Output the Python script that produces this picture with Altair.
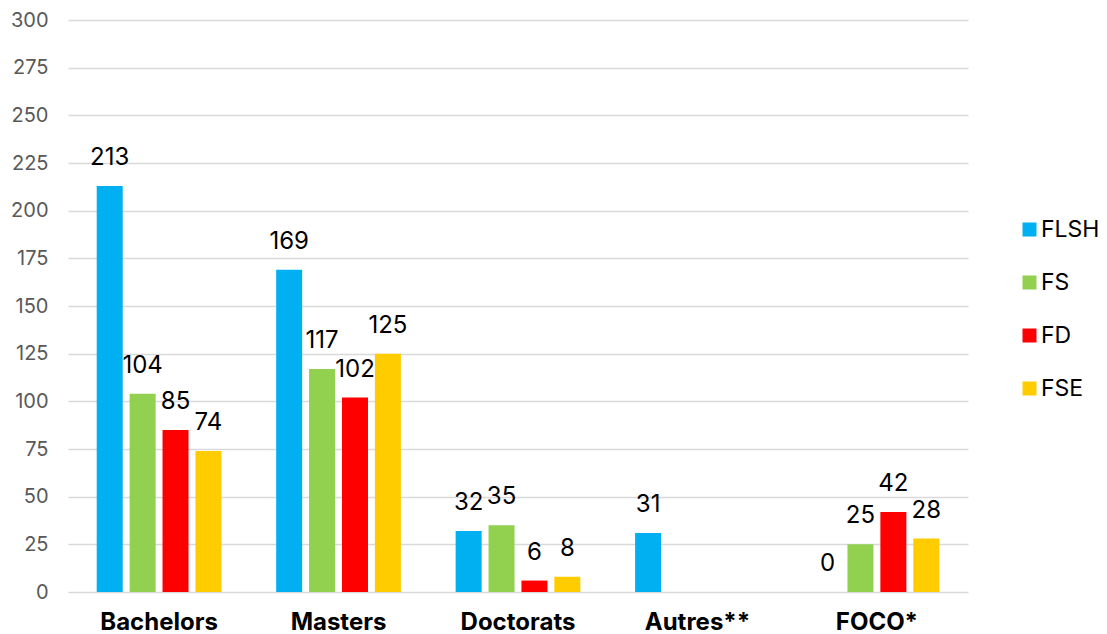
import altair as alt
import pandas as pd

categories = ["Bachelors", "Masters", "Doctorats", "Autres**", "FOCO*"]
series = ["FLSH", "FS", "FD", "FSE"]
colors = ["#00B0F0", "#92D050", "#FF0000", "#FFCC00"]
values = {
    "FLSH": [213, 169, 32, 31, 0],
    "FS": [104, 117, 35, None, 25],
    "FD": [85, 102, 6, None, 42],
    "FSE": [74, 125, 8, None, 28],
}

rows = []
for s in series:
    for c, v in zip(categories, values[s]):
        if v is not None:
            rows.append({"cat": c, "fac": s, "val": v})
df = pd.DataFrame(rows)

FONT = "Inter"

x = alt.X("cat:N", sort=categories,
          scale=alt.Scale(paddingInner=0.305, paddingOuter=0.16),
          axis=alt.Axis(title=None, labelAngle=0, labelFont=FONT, labelFontSize=24,
                        labelFontWeight="bold", labelColor="#000000", labelPadding=18,
                        domain=False, ticks=False))
xo = alt.XOffset("fac:N", sort=series, scale=alt.Scale(domain=series, paddingInner=0.21))
y = alt.Y("val:Q", scale=alt.Scale(domain=[0, 300]),
          axis=alt.Axis(title=None, values=list(range(0, 301, 25)), labelFont=FONT,
                        labelFontSize=20, labelColor="#595959", labelPadding=20,
                        domain=False, ticks=False, gridColor="#D9D9D9", gridWidth=1.5))
color = alt.Color("fac:N", sort=series,
                  scale=alt.Scale(domain=series, range=colors),
                  legend=alt.Legend(title=None, orient="none", legendX=950, legendY=198,
                                    symbolType="square", symbolSize=196, symbolStrokeWidth=0,
                                    labelFont=FONT, labelFontSize=23, labelColor="#000000",
                                    rowPadding=29, labelOffset=0))

bars = alt.Chart(df).mark_bar().encode(x=x, xOffset=xo, y=y, color=color)
labels = alt.Chart(df).mark_text(baseline="alphabetic", dy=-21, font=FONT, fontSize=24,
                                 color="#000000").encode(
    x=alt.X("cat:N", sort=categories), xOffset=alt.XOffset("fac:N", sort=series),
    y="val:Q", text="val:Q")

chart = (bars + labels).properties(
    width=900, height=572,
    autosize=alt.AutoSizeParams(type="none"),
    padding={"left": 60, "top": 12, "right": 131, "bottom": 42},
).configure_view(stroke=None).configure_axis(labelLimit=300)

chart.save("out.html", embed_options={"renderer": "svg", "actions": False})
